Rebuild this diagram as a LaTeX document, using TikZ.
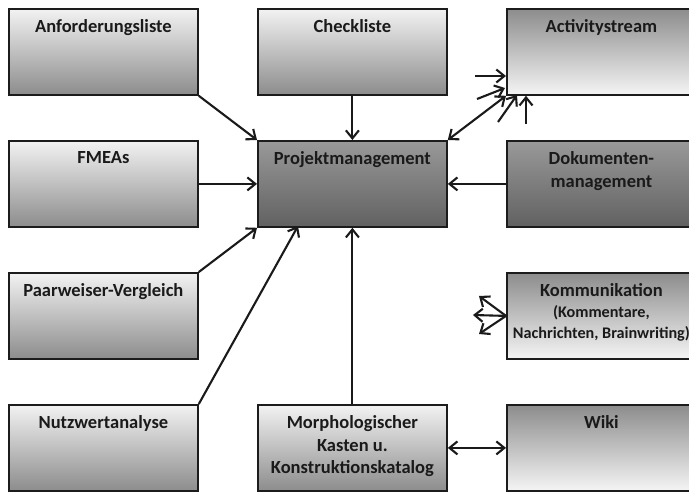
\documentclass[tikz,border=0pt]{standalone}
\usepackage{fontspec}
\setmainfont{Carlito}
\usetikzlibrary{arrows.meta}

% text block placed at the top of a box
\newcommand\boxlabel[1]{\parbox[c][86pt][t]{189pt}{\centering\vspace*{11pt}#1\par}}

\definecolor{edge}{HTML}{1C1C1C}
\definecolor{ink}{HTML}{1A1A1A}

\begin{document}
\begin{tikzpicture}[x=1pt,y=-1pt,
  box/.style={draw=edge, line width=1.8pt, minimum width=189pt, minimum height=86pt,
    inner sep=0pt, anchor=north west, text=ink,
    font=\fontsize{18.5}{22.5}\selectfont\bfseries},
  lightbox/.style={box, top color=white!95!black, middle color=white!83!black, bottom color=white!55!black},
  darkbox/.style={box, top color=white!60!black, middle color=white!53!black, bottom color=white!38!black},
  fadebox/.style={box, top color=white!55!black, middle color=white!81!black, bottom color=white!96!black},
  tip/.tip={Straight Barb[length=8pt,width=13pt]},
  link/.style={line width=2.1pt, draw=ink, -tip},
  dlink/.style={line width=2.1pt, draw=ink, tip-tip}]

\useasboundingbox (0,0) rectangle (689,491);
\clip (0,0) rectangle (689,491);

% left column
\node[lightbox] (anf)  at (8,8)   {\boxlabel{Anforderungsliste}};
\node[lightbox] (fmea) at (8,140) {\boxlabel{FMEAs}};
\node[lightbox] (paar) at (8,272) {\boxlabel{Paarweiser-Vergleich}};
\node[lightbox] (nutz) at (8,404) {\boxlabel{Nutzwertanalyse}};

% middle column
\node[lightbox] (chk) at (257,8)   {\boxlabel{Checkliste}};
\node[darkbox]  (pm)  at (257,140) {\boxlabel{Projektmanagement}};
\node[lightbox] (mor) at (257,404) {\boxlabel{Morphologischer\\Kasten u.\\Konstruktionskatalog}};

% right column
\node[fadebox] (act)  at (506,8)   {\boxlabel{Activitystream}};
\node[darkbox] (dok)  at (506,140) {\boxlabel{Dokumenten-\\management}};
\node[fadebox] (kom)  at (506,272) {\parbox[c][86pt][t]{189pt}{\centering\vspace*{11pt}Kommunikation\\
  \fontsize{16.2}{21}\selectfont(Kommentare,\\Nachrichten, Brainwriting)\par}};
\node[fadebox] (wiki) at (506,404) {\boxlabel{Wiki}};

% connectors into the project management box
\draw[link] (anf.south east) -- (pm.north west);
\draw[link] (chk.south) -- (pm.north);
\draw[link] (fmea.east) -- (pm.west);
\draw[link] (paar.north east) -- (pm.south west);
\coordinate (pmfoot) at (298,226);
\draw[link] (nutz.north east) -- (pmfoot);
\draw[link] (mor.north) -- (pm.south);
\draw[link] (dok.west) -- (pm.east);

% two-way links
\draw[dlink] (pm.north east) -- (act.south west);
\draw[dlink] (mor.east) -- (wiki.west);

% short incoming arrows at the activity stream
\coordinate (s1) at (475,76);
\coordinate (s2) at (477,99);
\coordinate (s2e) at (505,88);
\coordinate (s3) at (498,122);
\coordinate (s3e) at (517,95);
\coordinate (s4) at (526,124);
\draw[link] (s1) -- (s1 -| act.west);
\draw[link] (s2) -- (s2e);
\draw[link] (s3) -- (s3e);
\draw[link] (s4) -- (s4 |- act.south);

% short outgoing arrows at the communication box
\coordinate (k1) at (479,296);
\coordinate (k2) at (473,315);
\coordinate (k3) at (479,334);
\draw[link] (kom.west) -- (k1);
\draw[link] (kom.west) -- (k2);
\draw[link] (kom.west) -- (k3);

\end{tikzpicture}
\end{document}
